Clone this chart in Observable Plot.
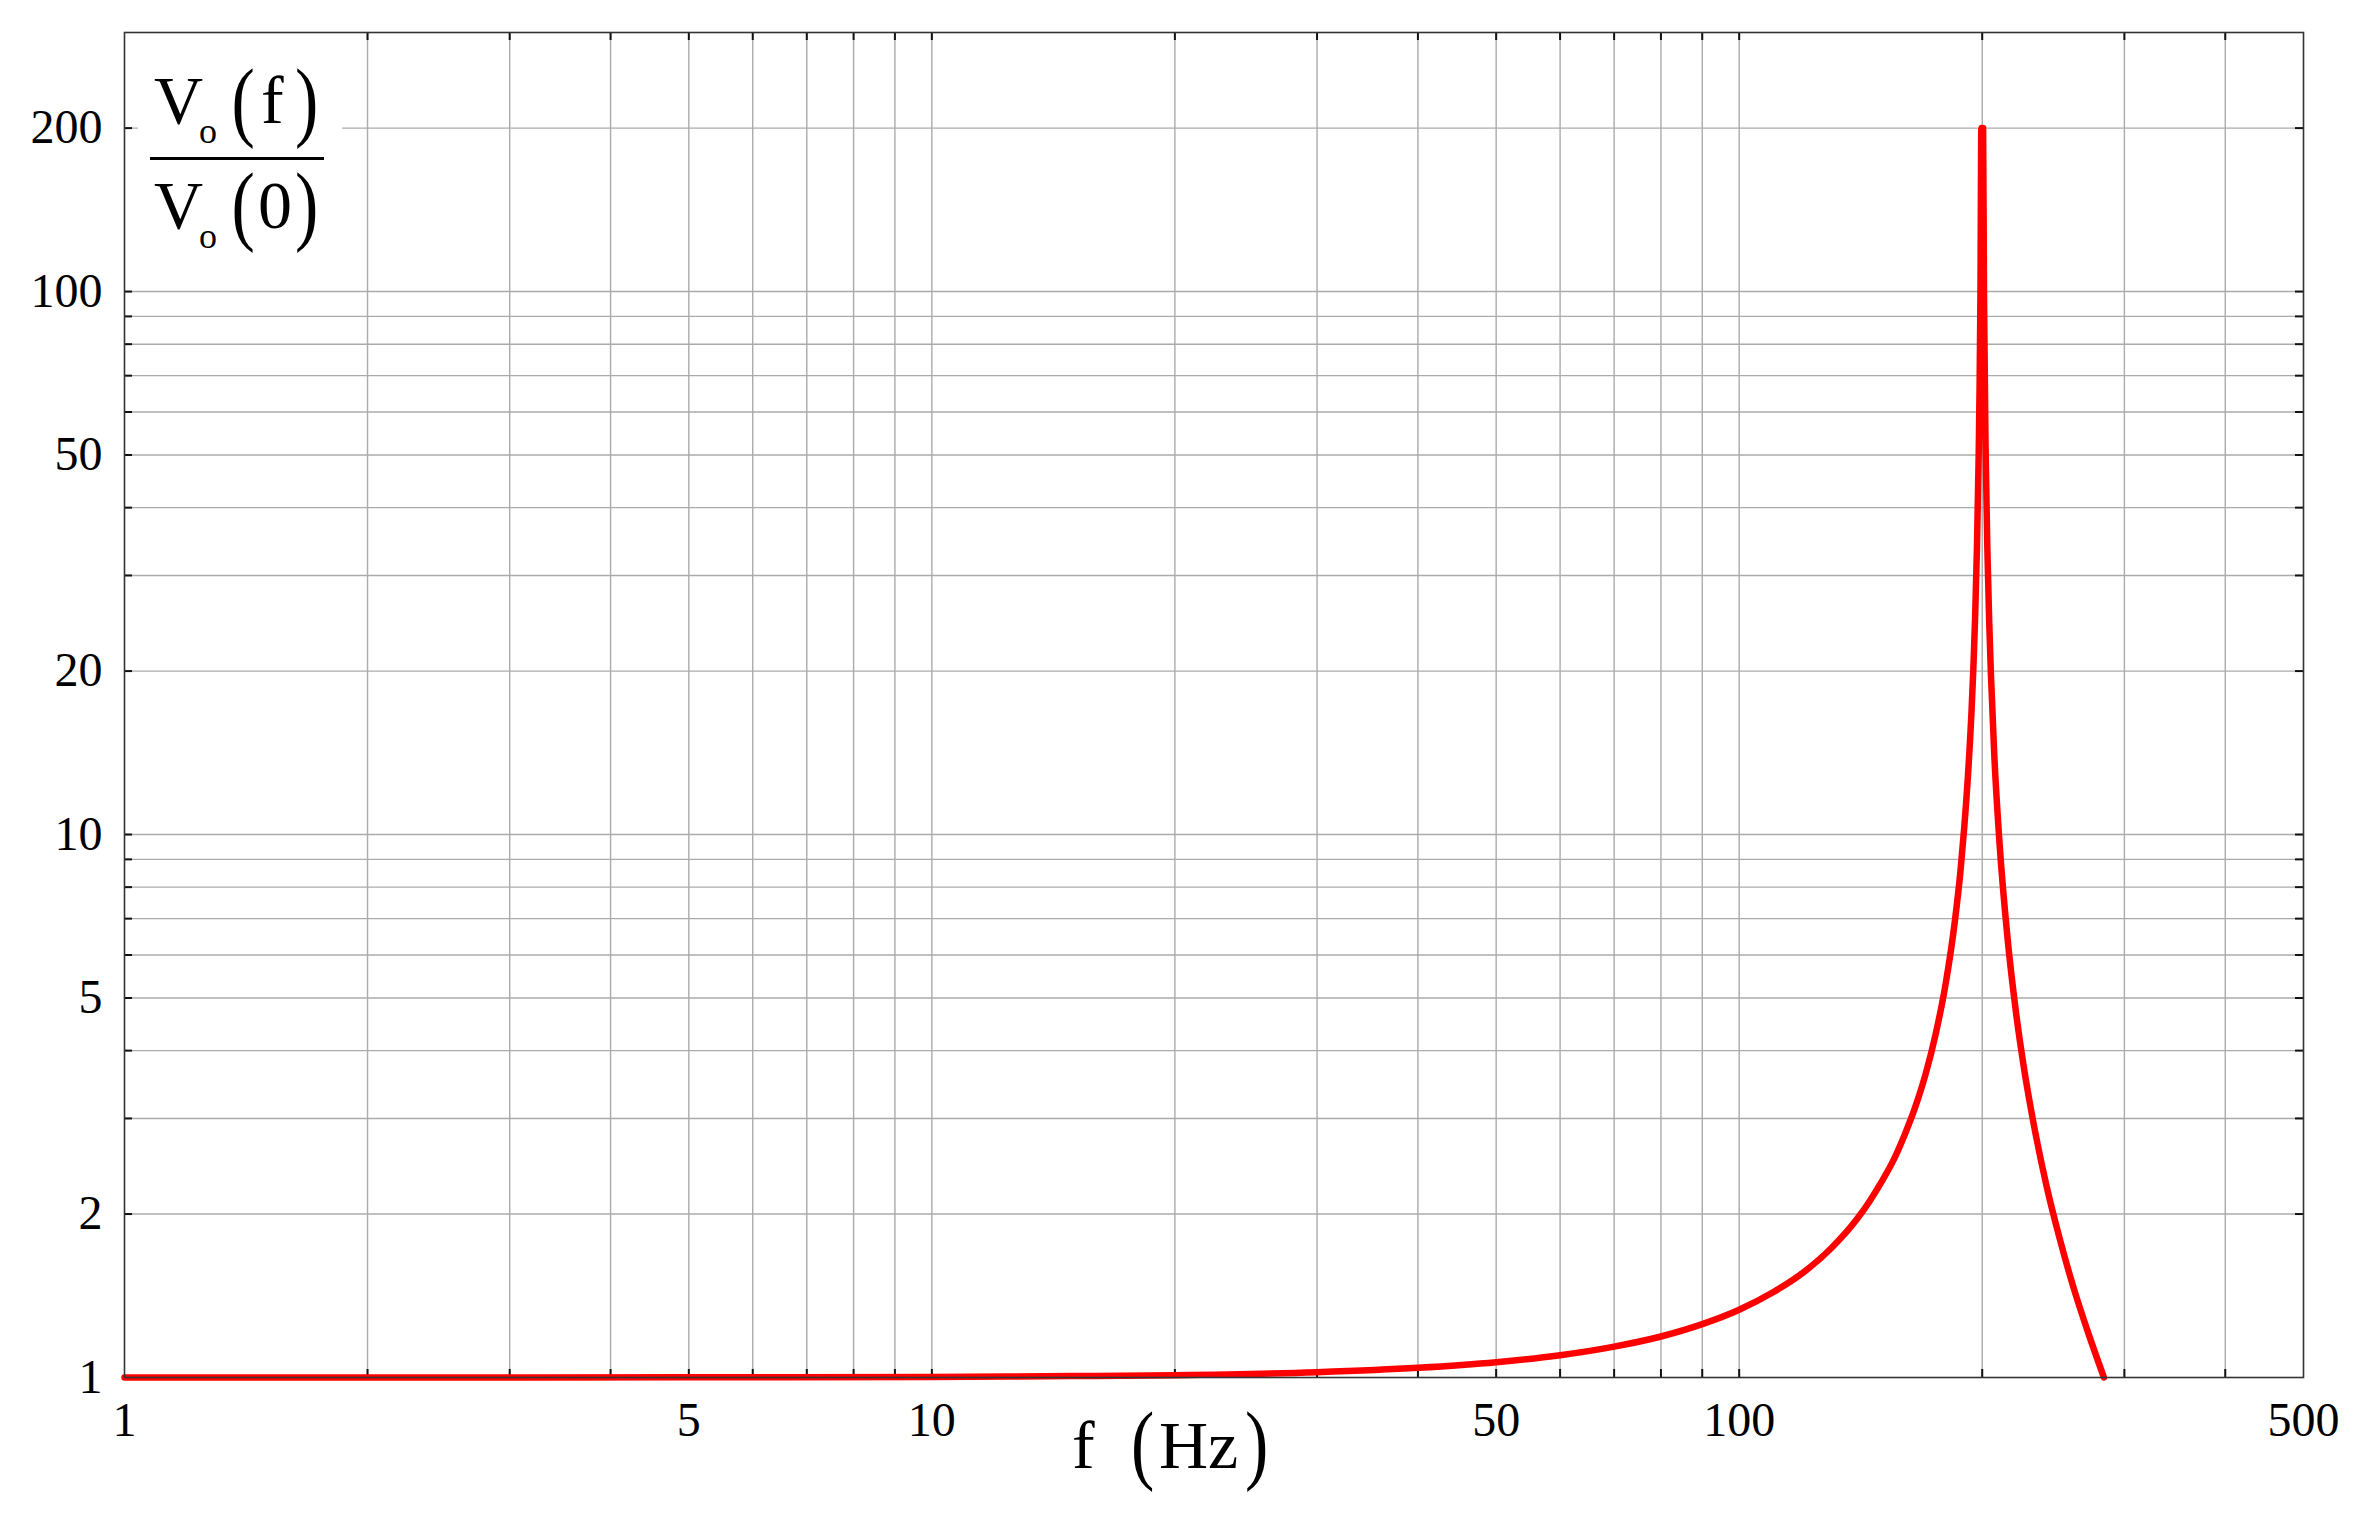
<!DOCTYPE html>
<html>
<head>
<meta charset="utf-8">
<script src="https://cdn.jsdelivr.net/npm/d3@7"></script>
<script src="https://cdn.jsdelivr.net/npm/@observablehq/plot@0.6"></script>
<style>
  body { margin: 0; background: white; }
  #wrap { position: relative; width: 2367px; height: 1529px; font-family: "Liberation Serif", serif; color: black; }
  #wrap span.t { position: absolute; white-space: nowrap; line-height: 1; }
</style>
</head>
<body>
<div id="wrap"></div>
<script>
// ---- data ----
const freq = [1, 2, 5, 10, 15, 20, 30, 40, 50, 60, 70, 80, 90, 100, 110, 120, 130, 140, 145, 150, 155, 160, 165, 170, 175, 180, 185, 188, 190, 192, 194, 195, 196, 197, 198, 198.5, 199, 199.5,
              200.5, 201, 202, 203, 204, 205, 207, 210, 215, 220, 225, 230, 240, 250, 260, 270, 283];
const ratio = [1, 1.0001, 1.0006, 1.0025, 1.006, 1.010, 1.023, 1.042, 1.067, 1.099, 1.14, 1.19, 1.254, 1.333, 1.434, 1.56, 1.73, 1.96, 2.11, 2.29, 2.50, 2.78, 3.13, 3.60, 4.27, 5.26, 6.93, 8.59, 10.3, 12.8, 16.9, 20.2, 25.2, 33.6, 50.2, 66.8, 100, 200,
               200, 99.8, 49.8, 33.1, 24.8, 19.8, 14.0, 9.76, 6.43, 4.76, 3.76, 3.10, 2.27, 1.78, 1.45, 1.22, 1];
const xTickLabels = [1, 5, 10, 50, 100, 500];
const yTickLabels = [1, 2, 5, 10, 20, 50, 100, 200];
const xGrid = [2, 3, 4, 5, 6, 7, 8, 9, 10, 20, 30, 40, 50, 60, 70, 80, 90, 100, 200, 300, 400];
const yGrid = [2, 3, 4, 5, 6, 7, 8, 9, 10, 20, 30, 40, 50, 60, 70, 80, 90, 100, 200];

const data = freq.map((f, i) => ({f, r: ratio[i]}));

const W = 2367, H = 1529;
const mL = 124, mR = 64, mT = 32, mB = 152;
const pW = W - mL - mR, pH = H - mT - mB;
const tickLen = 8;

const gridStyle = {stroke: "#ababab", strokeWidth: 1.4, strokeOpacity: 1};
const tickStyle = {stroke: "#111", strokeWidth: 2, strokeOpacity: 1};

const chart = Plot.plot({
  width: W, height: H,
  marginLeft: mL, marginRight: mR, marginTop: mT, marginBottom: mB,
  x: {type: "log", domain: [1, 500]},
  y: {type: "log", domain: [1, 300]},
  style: {fontFamily: "Liberation Serif", fontSize: "48px", background: "white", color: "black", overflow: "visible"},
  marks: [
    Plot.ruleX(xGrid, gridStyle),
    Plot.ruleY(yGrid, gridStyle),
    Plot.ruleX(xGrid, {...tickStyle, insetTop: pH - tickLen}),
    Plot.ruleX(xGrid, {...tickStyle, insetBottom: pH - tickLen}),
    Plot.ruleY(yGrid, {...tickStyle, insetRight: pW - tickLen}),
    Plot.ruleY(yGrid, {...tickStyle, insetLeft: pW - tickLen}),
    Plot.line(data, {x: "f", y: "r", stroke: "#ff0000", strokeWidth: 6.5, curve: "monotone-x"}),
    Plot.frame({stroke: "#333", strokeWidth: 1.6}),
    Plot.axisX(xTickLabels, {tickSize: 0, tickPadding: 24, tickFormat: d => String(d), label: null, fontSize: 48}),
    Plot.axisY(yTickLabels, {tickSize: 0, tickPadding: 22, tickFormat: d => String(d), label: null, fontSize: 48})
  ]
});

const wrap = document.getElementById("wrap");
wrap.appendChild(chart);
chart.style.position = "absolute";
chart.style.left = "0px";
chart.style.top = "0px";

// white box behind the y label
const box = document.createElement("div");
Object.assign(box.style, {position: "absolute", left: "138px", top: "40px", width: "204px", height: "240px", background: "white"});
wrap.appendChild(box);

function place(text, left, baseline, size, scaleY) {
  const s = document.createElement("span");
  s.className = "t";
  s.textContent = text;
  s.style.fontSize = size + "px";
  s.style.left = left + "px";
  s.style.top = (baseline - 0.8375 * size) + "px";
  if (scaleY) { s.style.transform = `scaleY(${scaleY})`; s.style.transformOrigin = "50% 50%"; }
  wrap.appendChild(s);
}

// y label: Vo(f) / Vo(0)
place("V", 154, 123, 68);
place("o", 199, 143, 36);
place("(", 231.5, 125, 70, 1.26);
place("f", 261, 123, 68);
place(")", 295, 125, 70, 1.26);
const bar = document.createElement("div");
Object.assign(bar.style, {position: "absolute", left: "150px", top: "157px", width: "174px", height: "2.5px", background: "black"});
wrap.appendChild(bar);
place("V", 154, 228, 68);
place("o", 199, 248, 36);
place("(", 231.5, 229, 70, 1.26);
place("0", 258, 228, 68);
place(")", 295, 229, 70, 1.26);

// x label: f (Hz)
place("f", 1072, 1468, 68);
place("(", 1131, 1468, 70, 1.26);
place("Hz", 1159, 1468, 68);
place(")", 1245, 1468, 70, 1.26);
</script>
</body>
</html>
